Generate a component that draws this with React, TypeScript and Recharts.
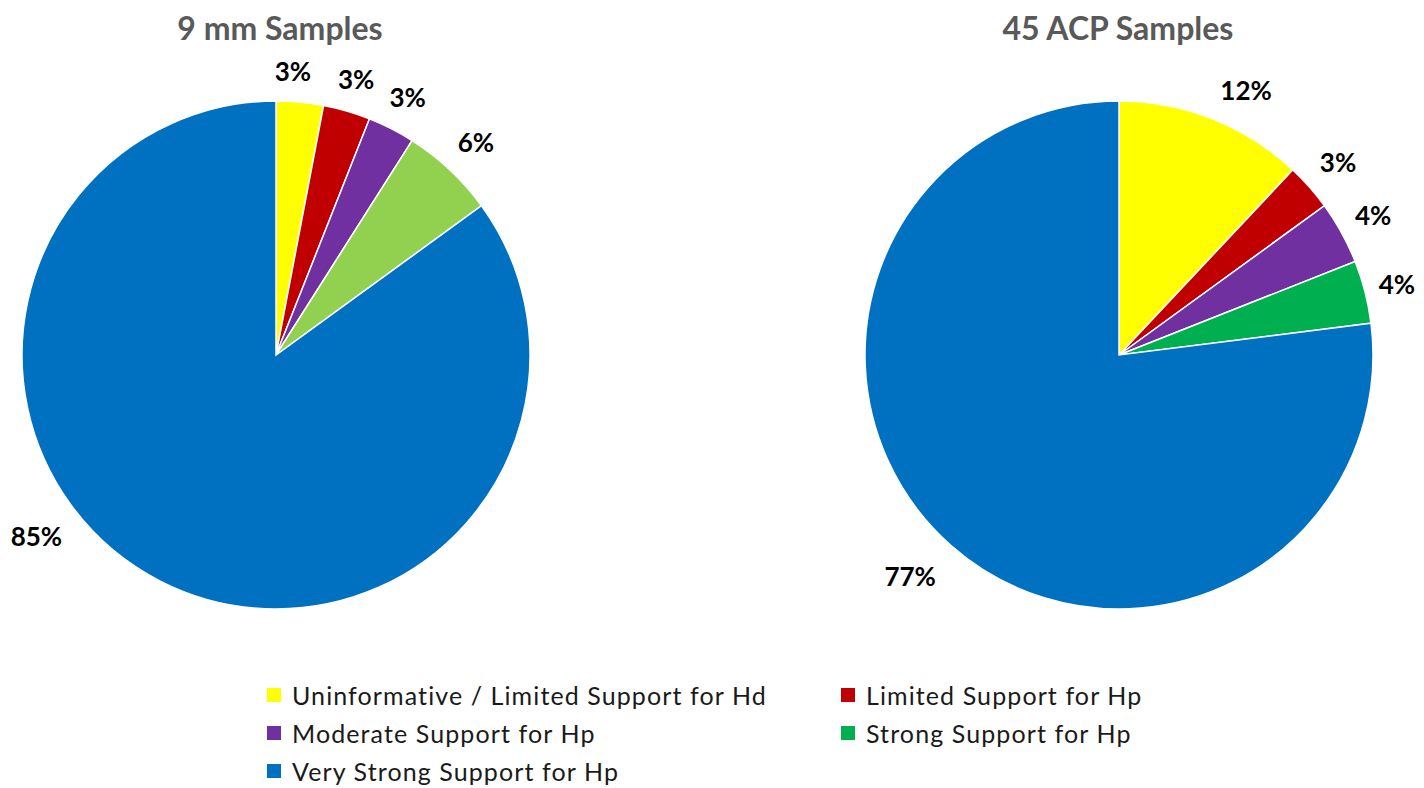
import * as React from "react";
import { PieChart, Pie, Cell } from "recharts";

// categories shared by both pies
const categories = [
  "Uninformative / Limited Support for Hd",
  "Limited Support for Hp",
  "Moderate Support for Hp",
  "Strong Support for Hp",
  "Very Strong Support for Hp",
];

// percentages
const nineMmValues = [3, 3, 3, 6, 85];
const acpValues = [12, 3, 4, 4, 77];

const legendColors = ["#FFFF00", "#C00000", "#7030A0", "#00B050", "#0070C0"];
// the 9 mm chart uses a lighter green for "Strong"
const nineMmColors = ["#FFFF00", "#C00000", "#7030A0", "#92D050", "#0070C0"];

// extra rotation (deg, clockwise) for labels Excel moved with "best fit"
const nineMmLabelShift = [-2, 0, 0, 0, 26];
const acpLabelShift = [4, 0, 0, 0, 2];

const RAD = Math.PI / 180;
const FONT = "Lato, 'Open Sans', sans-serif";

function makeLabel(shift: number[], extra: number[]) {
  return (props: any) => {
    const { cx, cy, midAngle, outerRadius, percent, index } = props;
    const angle = midAngle - (shift[index] ?? 0);
    const r = outerRadius + (extra[index] ?? 34);
    const x = cx + r * Math.cos(-angle * RAD);
    const y = cy + r * Math.sin(-angle * RAD);
    return (
      <text
        x={x}
        y={y}
        textAnchor="middle"
        dominantBaseline="central"
        fill="#000"
        fontFamily={FONT}
        fontWeight={700}
        fontSize={26}
      >
        {`${Math.round(percent * 100)}%`}
      </text>
    );
  };
}

const titleStyle: React.CSSProperties = {
  position: "absolute",
  top: 8,
  width: 400,
  textAlign: "center",
  fontFamily: FONT,
  fontWeight: 700,
  fontSize: 32,
  lineHeight: "40px",
  color: "#595959",
};

export default function App() {
  const nineData = categories.map((name, i) => ({ name, value: nineMmValues[i] }));
  const acpData = categories.map((name, i) => ({ name, value: acpValues[i] }));

  return (
    <div
      style={{
        position: "absolute",
        left: 0,
        top: 0,
        width: 1424,
        height: 788,
        background: "#fff",
        overflow: "hidden",
      }}
    >
      <div style={{ ...titleStyle, left: 280 - 200 }}>9 mm Samples</div>
      <div style={{ ...titleStyle, left: 1118 - 200 }}>45 ACP Samples</div>

      <PieChart
        width={1424}
        height={660}
        margin={{ top: 0, right: 0, bottom: 0, left: 0 }}
        style={{ position: "absolute", left: 0, top: 0 }}
      >
        <Pie
          data={nineData}
          dataKey="value"
          nameKey="name"
          cx={276}
          cy={355}
          outerRadius={254}
          startAngle={90}
          endAngle={-270}
          stroke="#fff"
          strokeWidth={1.5}
          labelLine={false}
          label={makeLabel(nineMmLabelShift, [30, 33, 36, 38, 46])}
          isAnimationActive={false}
        >
          {nineData.map((d, i) => (
            <Cell key={d.name} fill={nineMmColors[i]} />
          ))}
        </Pie>
        <Pie
          data={acpData}
          dataKey="value"
          nameKey="name"
          cx={1119}
          cy={355}
          outerRadius={254}
          startAngle={90}
          endAngle={-270}
          stroke="#fff"
          strokeWidth={1.5}
          labelLine={false}
          label={makeLabel(acpLabelShift, [40, 38, 36, 33, 50])}
          isAnimationActive={false}
        >
          {acpData.map((d, i) => (
            <Cell key={d.name} fill={legendColors[i]} />
          ))}
        </Pie>
      </PieChart>

      <div
        style={{
          position: "absolute",
          left: 267,
          top: 676,
          width: 1000,
          display: "grid",
          gridTemplateColumns: "574px 400px",
          fontFamily: FONT,
          fontSize: 25,
          lineHeight: "30px",
          letterSpacing: 1.1,
          color: "#1a1a1a",
        }}
      >
        {categories.map((c, i) => (
          <div key={c} style={{ display: "flex", alignItems: "center", height: 38 }}>
            <span
              style={{
                display: "inline-block",
                flex: "none",
                width: 14,
                height: 14,
                background: legendColors[i],
                marginRight: 11,
              }}
            />
            <span style={{ whiteSpace: "nowrap" }}>{c}</span>
          </div>
        ))}
      </div>
    </div>
  );
}
